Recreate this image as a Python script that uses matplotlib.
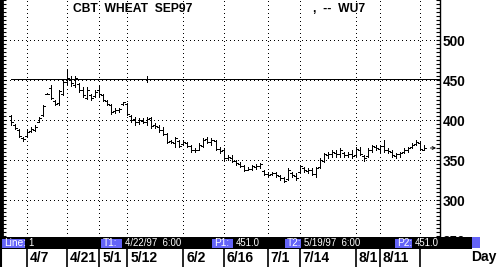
import matplotlib
matplotlib.use("Agg")
import matplotlib.pyplot as plt
from matplotlib.transforms import blended_transform_factory, offset_copy
from matplotlib.ticker import MultipleLocator
from matplotlib.patches import Rectangle
import numpy as np

# ---------------- data ----------------
title = "CBT  WHEAT  SEP97"
symbol = ",  --  WU7"

highs = [406, 395, 389, 379, 387, 391, 394, 404, 419, 434,
         444, 425, 437, 450, 464, 454, 455, 446, 441, 441,
         432, 437, 442, 432, 425, 420, 415, 415, 423, 421,
         406, 404, 402, 402, 404, 404, 396, 394, 391, 384,
         375, 379, 375, 375, 373, 369, 365, 371, 377, 379,
         377, 375, 366, 365, 356, 356, 350, 347, 344, 341,
         344, 345, 346, 337, 335, 335, 335, 331, 329, 340,
         335, 334, 344, 341, 340, 340, 341, 352, 359, 360,
         362, 362, 365, 360, 360, 362, 366, 366, 356, 365,
         369, 369, 369, 375, 365, 362, 359, 360, 365, 366,
         371, 375, 372, 369]
lows = [394, 389, 379, 374, 379, 385, 386, 397, 405, 432,
        426, 419, 419, 431, 445, 443, 441, 435, 429, 426,
        425, 429, 430, 424, 419, 407, 409, 410, 419, 406,
        398, 394, 395, 396, 394, 390, 390, 385, 381, 371,
        371, 366, 366, 369, 366, 360, 360, 362, 366, 371,
        369, 362, 359, 350, 350, 347, 344, 341, 336, 337,
        337, 339, 340, 331, 329, 331, 329, 325, 322, 325,
        329, 325, 334, 335, 334, 331, 329, 340, 347, 352,
        354, 354, 354, 354, 354, 352, 354, 356, 349, 354,
        360, 363, 360, 360, 359, 354, 352, 354, 359, 360,
        365, 369, 362, 362]
opens = [405, 394, 388, 378, 380, 386, 388, 398, 406, 433,
         440, 424, 421, 433, 448, 450, 444, 445, 437, 428,
         431, 430, 438, 431, 424, 419, 411, 412, 420, 420,
         405, 401, 397, 399, 397, 402, 394, 391, 388, 383,
         374, 371, 374, 370, 371, 368, 362, 363, 368, 376,
         372, 374, 364, 362, 353, 353, 349, 345, 342, 338,
         339, 341, 343, 336, 333, 332, 334, 330, 327, 326,
         334, 330, 335, 340, 336, 338, 332, 341, 349, 356,
         357, 359, 357, 359, 356, 357, 356, 363, 355, 355,
         362, 366, 364, 368, 362, 360, 355, 357, 360, 362,
         366, 370, 371, 363]
closes = [397, 390, 380, 376, 385, 389, 391, 402, 417, 433,
          428, 420, 436, 448, 452, 446, 452, 437, 431, 438,
          427, 435, 433, 425, 420, 410, 413, 414, 422, 408,
          400, 398, 400, 398, 401, 392, 392, 387, 383, 373,
          372, 377, 368, 372, 368, 362, 363, 369, 375, 373,
          375, 364, 361, 352, 354, 349, 346, 343, 338, 339,
          342, 343, 345, 333, 331, 334, 331, 327, 324, 338,
          331, 327, 343, 337, 338, 333, 340, 350, 357, 358,
          360, 357, 362, 356, 358, 355, 364, 358, 352, 363,
          367, 365, 367, 362, 361, 356, 357, 359, 363, 365,
          369, 372, 364, 365]

date_labels = ["4/7", "4/21", "5/1", "5/12", "6/2", "6/16", "7/1", "7/14", "8/1", "8/11", ""]
date_index = [4, 14, 22, 29, 43, 53, 64, 72, 86, 92, 102]
y_ticks = [250, 300, 350, 400, 450, 500]
trend_price = 451.0
t1_index, t2_index = 15, 34
status_items = [("Line:", "1"), ("T1:", "4/22/97  6:00"), ("P1:", "451.0"),
                ("T2:", "5/19/97  6:00"), ("P2:", "451.0")]

# ---------------- layout ----------------
W, H = 500, 267
BLUE = "#6464F8"
plt.rcParams['font.family'] = ['Liberation Sans', 'DejaVu Sans']
fig = plt.figure(figsize=(W / 100, H / 100), dpi=100)
fig.patch.set_facecolor("white")

ax = fig.add_axes([2 / W, (H - 249) / H, 438 / W, 249 / H])
ax.set_xlim(-2.24, 106.98)
ax.set_ylim(238.75, 550)

idx = np.arange(len(highs))
kw = dict(color="black", lw=0.72, antialiased=False, zorder=3)
ax.vlines(idx, lows, highs, **kw)
ax.hlines(opens, idx - 0.5, idx, **kw)
ax.hlines(closes, idx, idx + 0.5, **kw)

# dotted grid
dot = (0, (1, 3.2))
ax.vlines(date_index, 238.75, 550, colors="black", linestyles=dot, lw=0.72,
          antialiased=False, zorder=1)
ax.hlines(y_ticks, -2.24, 106.98, colors="black", linestyles=dot, lw=0.72,
          antialiased=False, zorder=1)

# trend line
ax.hlines(trend_price, 0, 106.98, colors="black", lw=0.72, antialiased=False, zorder=4)
for t in (t1_index, t2_index):
    ax.vlines(t, trend_price - 4, trend_price + 4, colors="black", lw=0.72,
              antialiased=False, zorder=4)

# last price arrow
ax.annotate("", xy=(106.0, closes[-1]), xytext=(104.6, closes[-1]),
            arrowprops=dict(arrowstyle="->", lw=0.7, color="black",
                            mutation_scale=5, shrinkA=0, shrinkB=0))

# axes styling
for s in ("top", "bottom"):
    ax.spines[s].set_visible(False)
ax.spines["left"].set_linewidth(2.0)
ax.spines["right"].set_linewidth(1.0)
ax.set_xticks([])
ax.set_yticks(y_ticks)
ax.yaxis.set_minor_locator(MultipleLocator(5))
ax.tick_params(axis="y", which="both", direction="in", left=True, right=True,
               labelleft=False, labelright=True, length=3.2, width=0.8, pad=2)
for lab in ax.get_yticklabels():
    lab.set_fontweight("bold")
    lab.set_fontsize(9.8)

# title
fig.text(73 / W, 1 - 9 / H, title, fontsize=8.7, fontweight="bold",
         ha="left", va="center")
fig.text(313 / W, 1 - 9 / H, symbol, fontsize=8.7, fontweight="bold",
         ha="left", va="center")

# ---------------- overlay: status bar, date row ----------------
ov = fig.add_axes([0, 0, 1, 1], zorder=10)
ov.set_xlim(0, W)
ov.set_ylim(H, 0)
ov.axis("off")
ov.add_patch(Rectangle((0, 237), 472, 12, color="black", lw=0))
ov.add_patch(Rectangle((472, 237), 8, 11, color=BLUE, lw=0))
ov.add_patch(Rectangle((0, 249), W, 18, color="white", lw=0))
ov.plot([1, 1], [0, H], color="black", lw=1.5, solid_capstyle="butt")

box_x = [(2, 25), (101, 122), (212, 233), (285, 301), (395, 412)]
for (lab, val), (x0, x1) in zip(status_items, box_x):
    ov.add_patch(Rectangle((x0, 238.5), x1 - x0, 9, color=BLUE, lw=0))
    ov.text(x0 + 2, 243, lab, color="white", fontsize=7.3, ha="left", va="center")
    ov.text(x1 + 3, 243, val, color="white", fontsize=6.9, ha="left", va="center")

# date row, positioned by the main axis' data x
blend = blended_transform_factory(ax.transData, fig.transFigure)
lab_tr = offset_copy(blend, fig=fig, x=3, y=0, units="dots")
for i, lab in zip(date_index, date_labels):
    ov.plot([i, i], [0, 18 / H], transform=blend, clip_on=False,
            color="black", lw=1.2, solid_capstyle="butt")
    ov.text(i, 9.5 / H, lab, transform=lab_tr, fontsize=10, fontweight="bold",
            ha="left", va="center", clip_on=False)
ov.text(496, 257.5, "Day", fontsize=10, fontweight="bold", ha="right", va="center")

fig.savefig("out.png", dpi=100)
